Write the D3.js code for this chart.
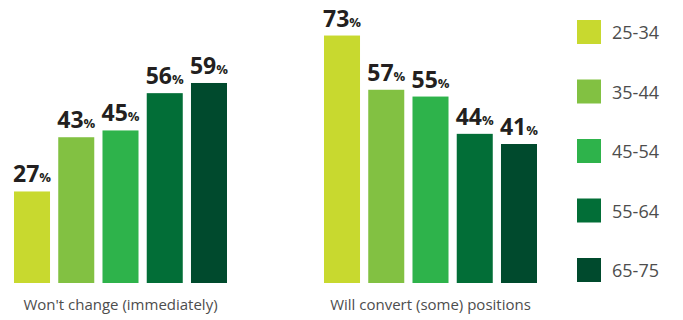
<!DOCTYPE html>
<html>
<head>
<meta charset="utf-8">
<script src="https://cdn.jsdelivr.net/npm/d3@7"></script>
<style>
  html, body { margin: 0; padding: 0; background: #fff; }
  svg { display: block; font-family: "Open Sans", "Noto Sans", sans-serif; }
</style>
</head>
<body>
<svg id="chart" width="683" height="320"></svg>
<script>
// Survey answers by age band
const groups = ["Won't change (immediately)", "Will convert (some) positions"];
const ageBands = ["25-34", "35-44", "45-54", "55-64", "65-75"];
const wontChange = [27, 43, 45, 56, 59];
const willConvert = [73, 57, 55, 44, 41];
const bandColors = ["#c8d92f", "#82c142", "#2eb34b", "#026e37", "#004a2d"];

const seriesByGroup = [wontChange, willConvert];

const svg = d3.select("#chart");
const baseline = 283;

const x0 = d3.scaleBand().domain(groups).range([14, 634]).padding(0);
const x1 = d3.scaleBand().domain(ageBands).range([0, 213]).paddingInner(0.186).paddingOuter(0);
const y = d3.scaleLinear().domain([0, 100]).range([baseline, baseline - 339]);
const color = d3.scaleOrdinal().domain(ageBands).range(bandColors);

const g = svg.selectAll("g.group")
  .data(groups.map((name, i) => ({ name, values: seriesByGroup[i] })))
  .join("g")
  .attr("class", "group")
  .attr("transform", d => `translate(${x0(d.name)},0)`);

const cells = g.selectAll("g.bar")
  .data(d => d.values.map((v, i) => ({ band: ageBands[i], value: v })))
  .join("g")
  .attr("class", "bar");

cells.append("rect")
  .attr("x", d => x1(d.band))
  .attr("y", d => y(d.value))
  .attr("width", x1.bandwidth())
  .attr("height", d => baseline - y(d.value))
  .attr("fill", d => color(d.band));

// Value labels: large bold number with a smaller percent sign
const lbl = cells.append("text")
  .attr("x", d => x1(d.band) + x1.bandwidth() / 2)
  .attr("y", d => y(d.value) - 9)
  .attr("text-anchor", "middle")
  .attr("fill", "#231f20")
  .attr("font-weight", 700);
lbl.append("tspan").attr("font-size", 23).text(d => d.value);
lbl.append("tspan").attr("font-size", 13).text("%");

g.append("text")
  .attr("x", x1.range()[1] / 2)
  .attr("y", 310)
  .attr("text-anchor", "middle")
  .attr("font-size", 15)
  .attr("fill", "#4d4d4d")
  .text(d => d.name);

// Legend
const ly = d3.scalePoint().domain(ageBands).range([20, 258]);
const legend = svg.append("g").selectAll("g")
  .data(ageBands)
  .join("g")
  .attr("transform", d => `translate(577,${ly(d)})`);
legend.append("rect")
  .attr("width", 24).attr("height", 24)
  .attr("fill", d => color(d));
legend.append("text")
  .attr("x", 35).attr("y", 19)
  .attr("font-size", 18)
  .attr("fill", "#4d4d4d")
  .text(d => d);
</script>
</body>
</html>
